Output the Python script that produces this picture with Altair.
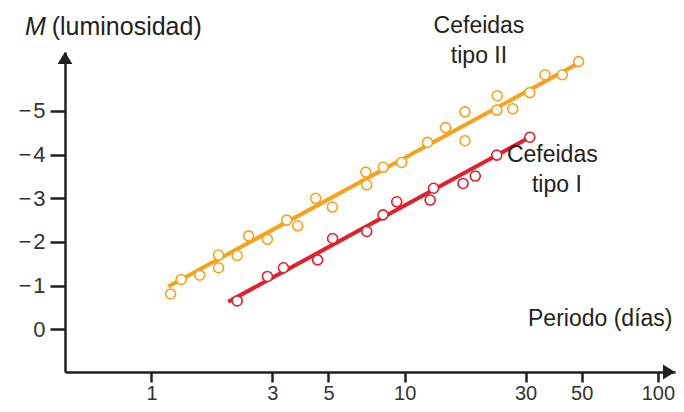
import altair as alt
import pandas as pd

# ---- data ----
# Cefeidas tipo II (orange)
t2_period = [1.19, 1.31, 1.55, 1.84, 1.84, 2.18, 2.42, 2.87, 3.42, 3.78, 4.45, 5.18,
             7.02, 7.08, 8.23, 9.73, 12.3, 14.5, 17.3, 17.3, 23.1, 23.2, 26.7, 31.2,
             35.8, 41.9, 48.6]
t2_mag = [-0.81, -1.14, -1.24, -1.41, -1.70, -1.69, -2.14, -2.06, -2.50, -2.37, -3.00, -2.80,
          -3.60, -3.31, -3.71, -3.82, -4.28, -4.62, -4.32, -4.98, -5.02, -5.35, -5.05, -5.42,
          -5.83, -5.83, -6.13]
# Cefeidas tipo I (red)
t1_period = [2.18, 2.87, 3.32, 4.53, 5.19, 7.08, 8.21, 9.30, 12.6, 13.0, 17.0, 19.0, 23.1, 31.2]
t1_mag = [-0.65, -1.21, -1.41, -1.59, -2.08, -2.24, -2.62, -2.92, -2.96, -3.23, -3.34, -3.51,
          -3.99, -4.40]
# fitted lines (end points)
t2_line_p = [1.165, 50.6]
t2_line_m = [-0.98, -6.15]
t1_line_p = [2.01, 30.3]
t1_line_m = [-0.63, -4.36]

x_ticks = [1, 3, 5, 10, 30, 50, 100]
y_ticks = [-5, -4, -3, -2, -1, 0]
x_domain = [0.4555, 116.8]
y_domain = [-6.351, 0.978]

series = ["tipo II", "tipo I"]
colors = ["#F7A21B", "#E41E2B"]

# annotations
left_texts = pd.DataFrame({
    "P": [0.4035, 30.69],
    "M": [-6.729, -0.07],
    "t": ["(luminosidad)", "Periodo (días)"],
    "s": [25, 23],
})
italic_text = pd.DataFrame({"P": [0.3165], "M": [-6.729], "t": ["M"]})
center_texts = pd.DataFrame({
    "P": [19.65, 19.65, 38.28, 39.9],
    "M": [-6.786, -6.093, -3.839, -3.145],
    "t": ["Cefeidas", "tipo II", "Cefeidas", "tipo I"],
})

pts = pd.DataFrame({
    "P": t2_period + t1_period,
    "M": t2_mag + t1_mag,
    "serie": ["tipo II"] * len(t2_period) + ["tipo I"] * len(t1_period),
})
lines = pd.DataFrame({
    "P": t2_line_p + t1_line_p,
    "M": t2_line_m + t1_line_m,
    "serie": ["tipo II"] * 2 + ["tipo I"] * 2,
})
arrow_up = pd.DataFrame({"P": [x_domain[0]], "M": [y_domain[0]]})
arrow_right = pd.DataFrame({"P": [x_domain[1]], "M": [y_domain[1]]})

FONT = "Liberation Sans"
INK = "#231f20"

xs = alt.Scale(type="log", domain=x_domain, nice=False)
ys = alt.Scale(domain=y_domain, reverse=True, nice=False, zero=False)
cs = alt.Scale(domain=series, range=colors)

x_axis = alt.Axis(values=x_ticks, labelExpr="format(datum.value, 'd')", title=None,
                  grid=False, domainColor=INK, domainWidth=2.5, tickColor=INK,
                  tickWidth=2.5, tickSize=10, labelFont=FONT, labelFontSize=20,
                  labelColor="#333333", labelPadding=1, labelFlush=False,
                  labelOverlap=False)
y_axis = alt.Axis(values=y_ticks,
                  labelExpr="datum.value < 0 ? '\u2212\u200a' + (-datum.value) : '0'",
                  title=None, grid=False, domainColor=INK, domainWidth=2.5,
                  tickColor=INK, tickWidth=2.5, tickSize=15, labelFont=FONT,
                  labelFontSize=22, labelColor="#333333", labelPadding=5,
                  labelFlush=False, labelOverlap=False)

base_x = alt.X("P:Q", scale=xs, axis=x_axis)
base_y = alt.Y("M:Q", scale=ys, axis=y_axis)

line_layer = alt.Chart(lines).mark_line(strokeWidth=4).encode(
    x=base_x, y=base_y,
    color=alt.Color("serie:N", scale=cs, legend=None),
    detail="serie:N",
)
point_layer = alt.Chart(pts).mark_point(
    shape="circle", filled=False, fill="white", fillOpacity=1, opacity=1,
    size=100, strokeWidth=1.6,
).encode(
    x="P:Q", y="M:Q",
    stroke=alt.Stroke("serie:N", scale=cs, legend=None),
)
up_layer = alt.Chart(arrow_up).mark_point(
    shape="M0,0 L-0.62,1 L0.62,1 Z", filled=True, color=INK, size=576, opacity=1,
).encode(x="P:Q", y="M:Q")
right_layer = alt.Chart(arrow_right).mark_point(
    shape="M0,0 L-1,-0.62 L-1,0.62 Z", filled=True, color=INK, size=576, opacity=1,
).encode(x="P:Q", y="M:Q")

left_text_layer = alt.Chart(left_texts).mark_text(
    align="left", baseline="alphabetic", font=FONT, color=INK,
).encode(x="P:Q", y="M:Q", text="t:N", size=alt.Size("s:Q", scale=None, legend=None))
italic_layer = alt.Chart(italic_text).mark_text(
    align="left", baseline="alphabetic", font=FONT, fontStyle="italic",
    fontSize=25, color=INK,
).encode(x="P:Q", y="M:Q", text="t:N")
center_layer = alt.Chart(center_texts).mark_text(
    align="center", baseline="alphabetic", font=FONT, fontSize=23, color=INK,
).encode(x="P:Q", y="M:Q", text="t:N")

chart = alt.layer(
    line_layer, point_layer, up_layer, right_layer,
    left_text_layer, italic_layer, center_layer,
).properties(
    width=610, height=320,
    padding={"left": 57, "top": 44, "right": 1, "bottom": 32},
    autosize=alt.AutoSizeParams(type="none"),
    background="white",
).configure_view(stroke=None)

chart.save("out.html", embed_options={"renderer": "svg", "actions": False})
